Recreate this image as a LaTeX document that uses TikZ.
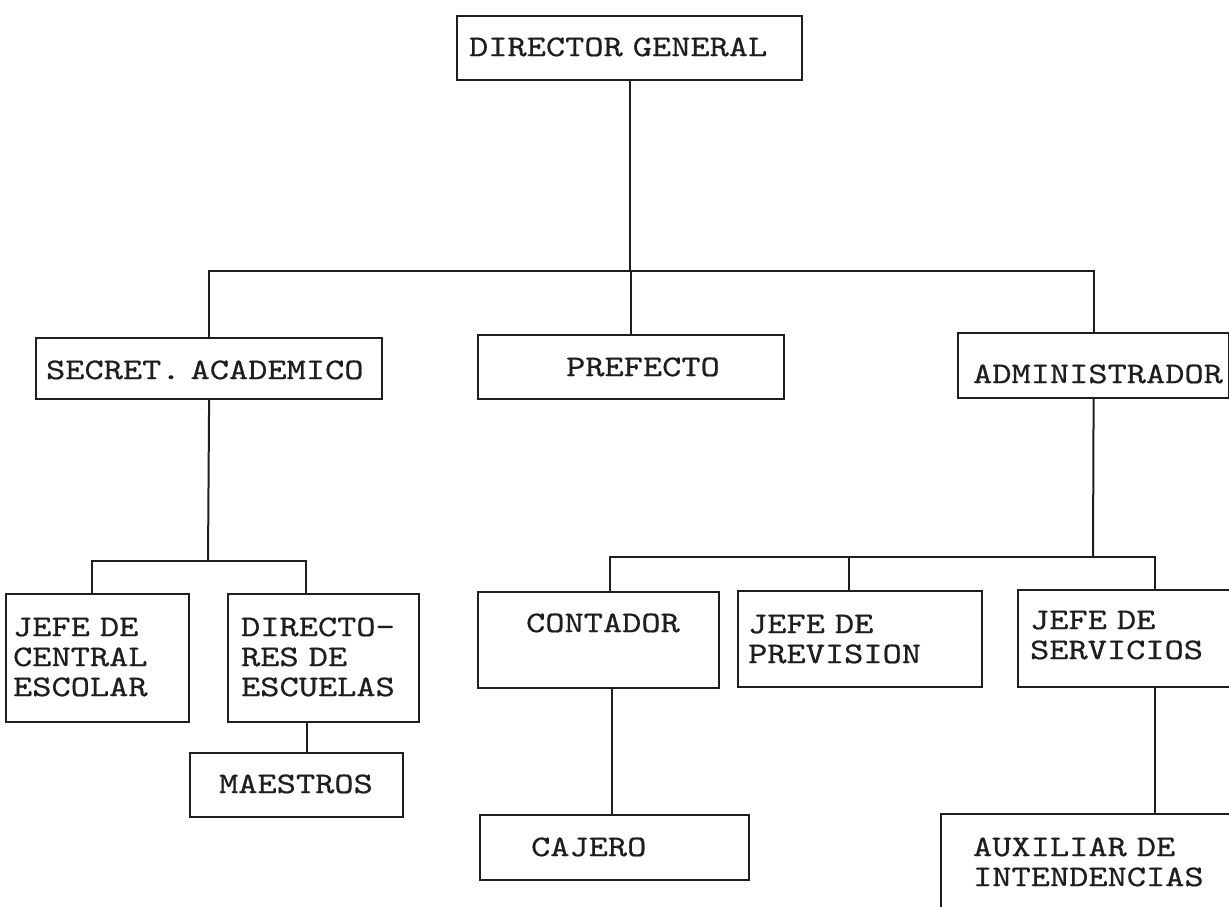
\documentclass[tikz,border=0pt]{standalone}
\usepackage{fontspec}
\usepackage{tikz}
\newfontfamily\orgfont{lmmono10-regular.otf}[FakeStretch=1.22, FakeBold=0.6, WordSpace={1.22,0,0}]
\definecolor{ink}{HTML}{1E1E1E}
\hyphenpenalty=10000
\frenchspacing

\begin{document}
\begin{tikzpicture}[
  x=1pt, y=-1pt,
  unit/.style={draw=ink, line width=2.2pt, anchor=north west, inner ysep=0pt, align=left, text=ink, font=\orgfont\fontsize{30}{30}\selectfont},
  link/.style={draw=ink, line width=2pt}
]
\path[use as bounding box, fill=white] (0,0) rectangle (1229,906);

\node[unit, inner xsep=12pt, text width=321pt, text height=40pt, text depth=24pt] (dir) at (456,15) {DIRECTOR~GENERAL};

\node[unit, inner xsep=10pt, text width=326pt, text height=41pt, text depth=20pt] (sec) at (35,337) {SECRET.~ACADEMICO};
\node[unit, inner xsep=88pt, text width=130pt, text height=41pt, text depth=23pt] (pre) at (477,334) {PREFECTO};
\node[unit, inner xsep=15pt, text width=241pt, text height=50pt, text depth=15pt] (adm) at (957,332) {ADMINISTRADOR};

\node[unit, inner xsep=7pt, text width=169pt, text height=42pt, text depth=86pt] (jce) at (5,593) {JEFE~DE\\CENTRAL\\ESCOLAR};
\node[unit, inner xsep=13pt, text width=165pt, text height=42pt, text depth=86pt] (dre) at (227,593) {DIRECTO-\\RES~DE\\ESCUELAS};
\node[unit, inner xsep=29pt, text width=155pt, text height=40pt, text depth=24pt] (mae) at (189,752) {MAESTROS};

\node[unit, inner xsep=48pt, text width=145pt, text height=40pt, text depth=56pt] (con) at (477,591) {CONTADOR};
\node[unit, inner xsep=10pt, text width=224pt, text height=42pt, text depth=54pt] (jpr) at (737,590) {JEFE~DE\\PREVISION};
\node[unit, inner xsep=12pt, text width=204pt, text height=39pt, text depth=58pt] (jse) at (1017,589) {JEFE~DE\\SERVICIOS};
\node[unit, inner xsep=51pt, text width=167pt, text height=41pt, text depth=24pt] (caj) at (479,814) {CAJERO};
\node[unit, inner xsep=32pt, text width=241pt, text height=42pt, text depth=70pt] (aux) at (940,813) {AUXILIAR~DE\\INTENDENCIAS};

\coordinate (bus1) at (629,271);
\coordinate (bus2) at (208,561);
\coordinate (bus3) at (1093,557);

\draw[link] (dir.south) -- (dir.south |- bus1);
\draw[link] (sec.north) |- (bus1) -| (adm.north);
\draw[link] (pre.north) -- (pre.north |- bus1);

\draw[link] (sec.south) -- (bus2);
\draw[link] ([xshift=-6pt]jce.north) |- (bus2) -| ([xshift=-18pt]dre.north);
\draw[link] ([xshift=-17pt]dre.south) -- ([xshift=-17pt]dre.south |- mae.north);

\draw[link] (adm.south) -- (bus3);
\draw[link] ([xshift=11pt]con.north) |- (bus3) -| ([xshift=23pt]jse.north);
\draw[link] ([xshift=-11pt]jpr.north) -- ([xshift=-11pt]jpr.north |- bus3);
\draw[link] ([xshift=13pt]con.south) -- ([xshift=13pt]con.south |- caj.north);
\draw[link] ([xshift=23pt]jse.south) -- ([xshift=23pt]jse.south |- aux.north);
\end{tikzpicture}
\end{document}
